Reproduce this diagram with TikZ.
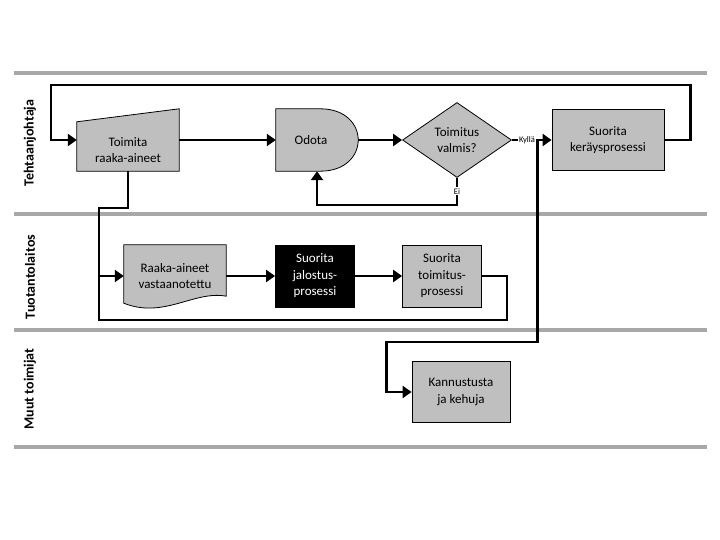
\documentclass[tikz,border=0pt]{standalone}
\usepackage{fontspec}
\setmainfont{Carlito}
\usetikzlibrary{arrows.meta,calc,backgrounds,shapes.geometric}
\definecolor{harmaa}{RGB}{191,191,191}
\definecolor{kaistaviiva}{RGB}{168,168,168}
\tikzstyle{teksti} = [align=center, font=\fontsize{13}{16.5}\selectfont]
\tikzstyle{prosessi} = [teksti, draw=black, fill=harmaa, line width=0.8pt, rectangle, inner sep=0pt]
\tikzstyle{muoto} = [draw=black, fill=harmaa, line width=0.8pt]
\tikzstyle{tyhja} = [rectangle, inner sep=0pt]
\tikzstyle{nuoli} = [line width=2.6pt, -{Triangle[length=9pt,width=12pt]}]
\tikzstyle{yhteys} = [line width=2.6pt]
\tikzstyle{kaista} = [line width=3.5pt, draw=kaistaviiva]
\tikzstyle{otsikko} = [rotate=90, font=\fontsize{14}{16}\selectfont\bfseries]
\tikzstyle{vastaus} = [fill=white, inner sep=1pt, font=\fontsize{8.5}{10}\selectfont]

\begin{document}
\begin{tikzpicture}[x=1pt,y=-1pt]
	\useasboundingbox (0,0) rectangle (720,540);
	% kaistat
	\draw[kaista] (14,73) -- (707,73);
	\draw[kaista] (14,214) -- (707,214);
	\draw[kaista] (14,330) -- (707,330);
	\draw[kaista] (14,447) -- (707,447);
	\node[otsikko] (johtaja) at (30,143) {Tehtaanjohtaja};
	\node[otsikko] (tuotanto) at (30,277) {Tuotantolaitos};
	\node[otsikko] (muut) at (30,389) {Muut toimijat};
	% tehtaanjohtaja
	\node[tyhja, minimum width=102pt, minimum height=62pt,
		label={[teksti, yshift=-10pt]center:Toimita\\raaka-aineet}] (toimita) at (128,140) {};
	\node[tyhja, minimum width=82pt, minimum height=62pt,
		label={[teksti, xshift=-6pt]center:Odota}] (odota) at (317,140) {};
	\node[teksti, diamond, draw=black, fill=harmaa, line width=0.8pt, inner sep=0pt,
		minimum width=109pt, minimum height=75pt] (valmis) at (457,140) {Toimitus\\valmis?};
	\node[prosessi, minimum width=112pt, minimum height=61pt] (kerays) at (608,140) {Suorita\\keräysprosessi};
	% tuotantolaitos
	\node[teksti, tyhja, minimum width=102pt, minimum height=62pt] (raaka) at (175,276) {Raaka-aineet\\vastaanotettu};
	\node[prosessi, fill=black, text=white, minimum width=79pt, minimum height=62pt] (jalostus) at (315,276) {Suorita\\jalostus-\\prosessi};
	\node[prosessi, minimum width=79pt, minimum height=62pt] (toimitus) at (442,276) {Suorita\\toimitus-\\prosessi};
	% muut toimijat
	\node[prosessi, minimum width=98pt, minimum height=61pt] (kannustus) at (461,392) {Kannustusta\\ja kehuja};
	\begin{scope}[on background layer]
		\draw[muoto] (toimita.south west) -- (toimita.south east) -- (toimita.north east)
			-- ($(toimita.north west)+(0,13)$) -- cycle;
		\draw[muoto] (odota.south west) -- (odota.north west) -- ($(odota.north east)+(-38,0)$)
			.. controls ($(odota.north east)+(12.7,0)$) and ($(odota.south east)+(12.7,0)$) .. ($(odota.south east)+(-38,0)$) -- cycle;
		\draw[muoto] (raaka.north west) -- (raaka.north east) -- ($(raaka.south east)+(0,-11)$)
			.. controls ($(raaka.south east)+(-32,-17)$) and ($(raaka.south west)+(40,12)$) .. ($(raaka.south west)+(0,-4)$) -- cycle;
	\end{scope}
	% yhteydet
	\draw[nuoli] (kerays.east) -- ++(26,0) -- ++(0,-55) -| ($(toimita.west)+(-26,0)$) -- (toimita.west);
	\draw[nuoli] (toimita) -- (odota);
	\draw[nuoli] (odota) -- (valmis);
	\draw[nuoli] (valmis.south) -- node[vastaus, pos=0.5] {Ei} ++(0,27) -| (odota.south);
	\draw[yhteys] ($(kerays.west)+(-14,0)$) |- ($(kannustus.west)+(-25,-50)$);
	\draw[nuoli] ($(kannustus.west)+(-25,-51.3)$) |- (kannustus.west);
	\draw[nuoli] (valmis) -- node[vastaus, pos=0.38] {Kyllä} (kerays);
	\draw[nuoli] (toimita.south) -- ++(0,37) -| ($(raaka.west)+(-25,0)$) -- (raaka.west);
	\draw[nuoli] (raaka) -- (jalostus);
	\draw[nuoli] (jalostus) -- (toimitus);
	\draw[yhteys] (toimitus.east) -- ++(25,0) |- ($(raaka.west)+(-25,44)$) -- ++(0,-45.3);
\end{tikzpicture}
\end{document}
